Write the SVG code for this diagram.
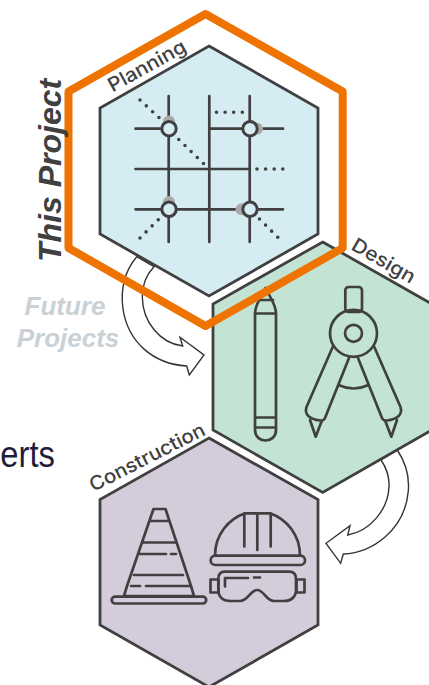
<svg xmlns="http://www.w3.org/2000/svg" width="429" height="685" viewBox="0 0 429 685">
<defs><style>
.hex{stroke:#404040;stroke-width:2.8;stroke-linejoin:miter}
.ic{fill:none;stroke:#404040;stroke-width:2.7;stroke-linecap:round;stroke-linejoin:round}
.dots{fill:none;stroke:#404040;stroke-width:3.6;stroke-linecap:round;stroke-dasharray:0 8.6}
.lbl{font-family:"Inter","Liberation Sans",sans-serif;font-weight:500;fill:#404040}
.side{font-family:"Liberation Sans",Arial,sans-serif;font-weight:700;font-style:italic}
.arrow{fill:#fff;stroke:#333;stroke-width:1.4;stroke-linejoin:miter}
.shade{fill:#a9a9a9}
.ring{fill:#d6ecf3;stroke:#404040;stroke-width:3}
</style></defs>
<rect width="429" height="685" fill="#fff"/>
<text transform="translate(55 467) scale(1 1.1)" text-anchor="end" font-family="Liberation Sans, Arial, sans-serif" font-size="32.800" fill="#1f1d3a">erts</text>
<g id="connectors">
<path class="arrow" d="M136.700 256.700C124 272 120.500 291 123 309C128 342 153 364 186.700 366L189.300 375L204 355L180 337.300L182.700 346C160 343 142.500 322 142.300 296.700C142.300 285 146 275 154 266.700Z"/>
<path class="arrow" d="M397.300 450C406 463 409.500 477 408.300 491C405 530 372 553 343.300 554L340.700 563.300L326 543.300L350 525.700L347.700 535C370 531 388 510 389 486.700C389.500 477 386.500 468 381 460Z"/>
</g>
<g id="planning">
<path class="hex" fill="#d6ecf3" d="M209 46L318 108V234L209 296L100 234V108Z"/>
<path class="ic" d="M168.700 96V242M209.300 96V242M249.700 96V242M135.500 128.700H168M209.300 128.700H283M135.500 169H249.700M135.500 209.300H283"/>
<path class="dots" d="M140 100L160 118.500M178.800 139.500L203.500 163.500M216.500 112.300H243M257 169H283M140 238L159 219M259.500 219L278.500 238"/>
<circle class="shade" cx="169" cy="121.500" r="6"/><circle class="shade" cx="257" cy="128.700" r="6"/><circle class="shade" cx="169" cy="202" r="6"/><circle class="shade" cx="241.500" cy="209.300" r="6"/>
<circle class="ring" cx="169" cy="128.700" r="7.200"/><circle class="ring" cx="250" cy="128.700" r="7.200"/><circle class="ring" cx="169" cy="209.300" r="7.200"/><circle class="ring" cx="250" cy="209.300" r="7.200"/>
<text class="lbl" transform="translate(112.500 92.500) rotate(-29)" font-size="19.500" textLength="86" lengthAdjust="spacingAndGlyphs">Planning</text>
</g>
<g id="design">
<path class="hex" fill="#c3e4d4" d="M322.700 242L432 304V430L322.700 492.500L213 430V304Z"/>
<path class="ic" d="M255 313.500V430C255 444 276 444 276 430V313.500C276 304 269 296 265.500 288C262 296 255 304 255 313.500ZM255 313.500H276M258 300H273M255 417.500H276M255 427.500H276"/>
<rect class="ic" x="345.300" y="287" width="16.700" height="25" rx="3.500"/>
<circle class="ic" cx="353.500" cy="333.300" r="23.500"/><circle class="ic" cx="353.500" cy="333.300" r="8.500"/>
<path class="ic" d="M332.700 347L306.500 407C304 415 310 419 320 420.500C323 421 324 420 325 418L349 358M310 420L315.700 436.700L321.800 420.700M374.300 347L400.500 407C403 415 397 419 387 420.500C384 421 383 420 382 418L358 358M397 420L391.300 436.700L385.200 420.700M338.500 385Q353.500 392 368.500 385"/>
<text class="lbl" transform="translate(350 249) rotate(30)" font-size="19.500" textLength="70" lengthAdjust="spacingAndGlyphs">Design</text>
</g>
<g id="construction">
<path class="hex" fill="#d5ccdb" d="M209 438L318 499.500V625L209 687L100 625V499.500Z"/>
<path class="ic" d="M153.500 509H165.500L191 586L194 596H124L127 586ZM150 521H169M142 542.500H176M139 554H166M171 554H176M134 575H183M131 586H140M146 586H191"/>
<rect class="ic" x="111.700" y="596.700" width="94.500" height="6.800" rx="3.400"/>
<rect class="ic" x="210.700" y="555.700" width="94.300" height="9.300" rx="4.600"/>
<path class="ic" d="M215 555.700C215 534 229 519 245 513.300H270C286 519 300 534 300 555.700M244.300 513.300V546.500M257.300 513.300V550M270.700 513.300V546.500"/>
<path class="ic" d="M225 571.700H289C293 571.700 296 574 296 579V590C296 597 291 601 284 601H274C266 601 264 590 257.300 590C250.500 590 248 601 240 601H230C223 601 218.300 597 218.300 590V579C218.300 574 221 571.700 225 571.700ZM225 586.500V578H248M254 577.500H260"/>
<rect class="ic" x="210.500" y="579.500" width="8" height="13"/><rect class="ic" x="296.500" y="579.500" width="8" height="13"/>
<text class="lbl" transform="translate(93.500 492) rotate(-27)" font-size="19.500" textLength="127" lengthAdjust="spacingAndGlyphs">Construction</text>
</g>
<g id="this-project">
<path fill="none" stroke="#ef7300" stroke-width="8" stroke-linejoin="round" d="M205.500 14L342.700 91.500V248L205.500 326L68.500 248V91.500Z"/>
<text class="side" transform="translate(60.500 262) rotate(-90)" font-size="32" fill="#404040">This Project</text>
</g>
<g id="future-projects" class="side" font-size="26" fill="#c9d1d7" text-anchor="middle">
<text x="65" y="315">Future</text>
<text x="68" y="347">Projects</text>
</g>
</svg>
